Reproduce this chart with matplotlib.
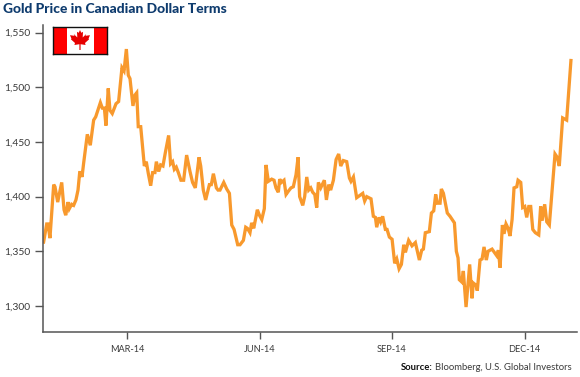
import matplotlib
matplotlib.use("Agg")
import matplotlib.pyplot as plt
from matplotlib.patches import Rectangle, Polygon

W, H = 580, 377

title = "Gold Price in Canadian Dollar Terms"
tick_labels = ["MAR-14", "JUN-14", "SEP-14", "DEC-14"]
tick_positions = [68.3, 170.8, 273.2, 375.7]
y_ticks = [1300, 1350, 1400, 1450, 1500, 1550]

session = [3.6, 6.2, 7.2, 8.7, 11.6, 12.6, 14.7, 17.8, 19.6, 20.9, 22.7, 23.7, 25.5, 27, 28.8, 30.4,
           31.7, 32.5, 33.5, 34.8, 37.6, 39.9, 42.5, 44.1, 47.7, 49.2, 50.8, 52, 53.8, 55.1, 56.9, 59.8,
           61.8, 64.4, 66, 67.8, 69.3, 70.6, 72.9, 74.5, 75.8, 77, 78.9, 81.7, 83.2, 84.8, 86.6, 88.1,
           89.9, 91, 92.8, 94.3, 96.1, 97.9, 100.5, 102, 103.6, 104.9, 106.4, 108, 110, 112.1, 114.4,
           117, 119, 121.1, 124, 125.3, 127.3, 129.1, 132, 133.5, 135.1, 137.4, 138.7, 140.2,
           143.1, 145.4, 147.5, 149.3, 151.1, 153.9, 155.7, 158.3, 160.1, 161.4, 163.4, 164.7, 166.3,
           169.1, 170.7, 172.5, 174.5, 175.8, 177.6, 180.2, 182, 183.5, 185.3, 186.4, 187.7, 189.7,
           191.3, 193.1, 195.1, 196.9, 199, 200.6, 201.8, 204.2, 205.7, 207.3, 208.8, 210.4, 211.9,
           213.5, 215, 216.3, 218.1, 220.9, 222.5, 224.3, 225.8, 227.9, 230, 232, 233.6, 235.6, 238.2,
           240.3, 241.5, 243.4, 245.9, 250.6, 252.1, 253.7, 257, 258.8, 260.4, 261.4, 263.2, 264.5,
           266, 268.1, 269.4, 271.2, 273.3, 275.3, 276.9, 278.7, 280.5, 282.3, 283.6, 286.1, 288.7,
           291.3, 294.4, 296.2, 297.5, 299, 302.1, 303.7, 305.5, 307, 308.3, 310.4, 311.4, 313, 316,
           318.1, 321.5, 323, 324.3, 325.3, 327.1, 328.4, 330.5, 333.3, 335.1, 336.1, 338.2, 339.2,
           341.3, 342.9, 344.4, 346.2, 347.5, 350.6, 354.2, 355.5, 356.8, 358.6, 359.9, 361.4, 363,
           364.5, 366.1, 367.6, 369.7, 370.7, 372.8, 374.3, 375.9, 377.4, 379, 380.5, 382.1, 384.1,
           386.7, 388.2, 389.3, 391.3, 392.9, 394.9, 399.3, 401, 402.6, 405.2, 408.3, 411.7]

price = [1357, 1375, 1375, 1362, 1411, 1409, 1395, 1413, 1388, 1383, 1395, 1389, 1393, 1392, 1397, 1406,
         1422, 1422, 1418, 1431, 1457, 1447, 1470, 1473, 1486, 1481, 1481, 1465, 1499, 1479, 1476, 1485,
         1487, 1518, 1515, 1535, 1511, 1508, 1483, 1493, 1495, 1464, 1464, 1428, 1432, 1421, 1410, 1422,
         1422, 1432, 1423, 1429, 1428, 1440, 1456, 1430, 1432, 1425, 1427, 1422, 1415, 1415, 1438,
         1423, 1413, 1408, 1436, 1428, 1406, 1397, 1411, 1411, 1421, 1408, 1406, 1406,
         1413, 1407, 1403, 1374, 1370, 1356, 1356, 1360, 1372, 1371, 1367, 1376, 1371,
         1388, 1383, 1379, 1389, 1429, 1414, 1416, 1415, 1408, 1404, 1416, 1413, 1415,
         1402, 1405, 1408, 1409, 1420, 1436, 1400, 1392, 1400, 1418, 1406, 1408, 1404,
         1402, 1390, 1413, 1408, 1415, 1397, 1411, 1406, 1415, 1434, 1439, 1428, 1433, 1432,
         1417, 1414, 1418, 1399, 1403, 1396, 1400, 1398, 1382, 1381, 1372, 1381, 1377,
         1382, 1370, 1370, 1363, 1361, 1339, 1343, 1334, 1338, 1356, 1349, 1360, 1355,
         1358, 1342, 1351, 1352, 1367, 1368, 1385, 1387, 1402, 1394, 1394, 1407, 1403, 1385,
         1382, 1376, 1350, 1344, 1324, 1322, 1332, 1299, 1338, 1307, 1321, 1319, 1314,
         1342, 1343, 1354, 1342, 1350, 1352, 1346, 1351, 1335, 1374, 1366, 1375, 1371,
         1364, 1379, 1408, 1409, 1415, 1413, 1390, 1391, 1381, 1391, 1391, 1370, 1367,
         1365, 1391, 1378, 1393, 1377, 1374, 1439, 1436, 1428, 1472, 1470, 1526]

# maple leaf outline, unit shape for the flag emblem
leaf_x = [0, .13, .3, .27, .62, .55, 1, .86, .9, .5, .56, .06, .06, -.06, -.06, -.56, -.5, -.9, -.86, -1, -.55, -.62, -.27, -.3, -.13]
leaf_y = [1, .72, .82, .25, .6, .42, .48, .15, .06, -.3, -.5, -.42, -1, -1, -.42, -.5, -.3, .06, .15, .48, .42, .6, .25, .82, .72]

NAVY = "#0E3B6E"
GREY = "#555555"
TEXT = "#3A3A3A"
ORANGE = "#F8992D"

plt.rcParams["font.family"] = ["Lato", "DejaVu Sans"]
fig = plt.figure(figsize=(W / 100, H / 100), dpi=100)
L, R, T, B = 42.7, 577, 25, 332.3
ax = fig.add_axes([L / W, 1 - B / H, (R - L) / W, (B - T) / H])
ax.plot(session, price, color=ORANGE, lw=2.35, solid_joinstyle="miter", solid_capstyle="butt")
ax.set_xlim(3.1, 416.3)
ax.set_ylim(1275.9, 1557)
ax.set_yticks(y_ticks)
ax.set_yticklabels([f"{v:,}" for v in y_ticks])
ax.set_xticks(tick_positions)
ax.set_xticklabels(tick_labels, family=["Liberation Sans Narrow", "Lato"])
for s in ("top", "right"):
    ax.spines[s].set_visible(False)
for s in ("left", "bottom"):
    ax.spines[s].set_color(GREY)
    ax.spines[s].set_linewidth(1.1)
ax.tick_params(axis="y", length=5.5, width=1.0, color=GREY, labelsize=7.4, labelcolor=TEXT, pad=3.5)
ax.tick_params(axis="x", length=5, width=1.0, color=GREY, labelsize=6.6, labelcolor=TEXT, pad=4.5)

# flag
fx = fig.add_axes([53 / W, 1 - 54 / H, 54 / W, 27 / H])
fx.set_xlim(0, 54)
fx.set_ylim(0, 27)
fx.set_xticks([])
fx.set_yticks([])
fx.add_patch(Rectangle((0, 0), 13.5, 27, color="#FF0000", lw=0))
fx.add_patch(Rectangle((40.5, 0), 13.5, 27, color="#FF0000", lw=0))
fx.add_patch(Polygon([(27 + 10 * x, 14 + 10 * y) for x, y in zip(leaf_x, leaf_y)], closed=True, color="#E60000", lw=0))
for s in fx.spines.values():
    s.set_color("#111111")
    s.set_linewidth(1.0)

fig.text(3 / W, 1 - 9 / H, title, color=NAVY, fontsize=10.0, fontweight="black", va="center", ha="left")
t = fig.text(572 / W, 1 - 368 / H, "Bloomberg, U.S. Global Investors", color=TEXT, fontsize=6.8, va="center", ha="right")
fig.canvas.draw()
bb = t.get_window_extent()
fig.text((bb.x0 - 3) / W, 1 - 368 / H, "Source:", color="#111111", fontsize=6.8, fontweight="bold", va="center", ha="right")

fig.savefig("out.png", dpi=100)
